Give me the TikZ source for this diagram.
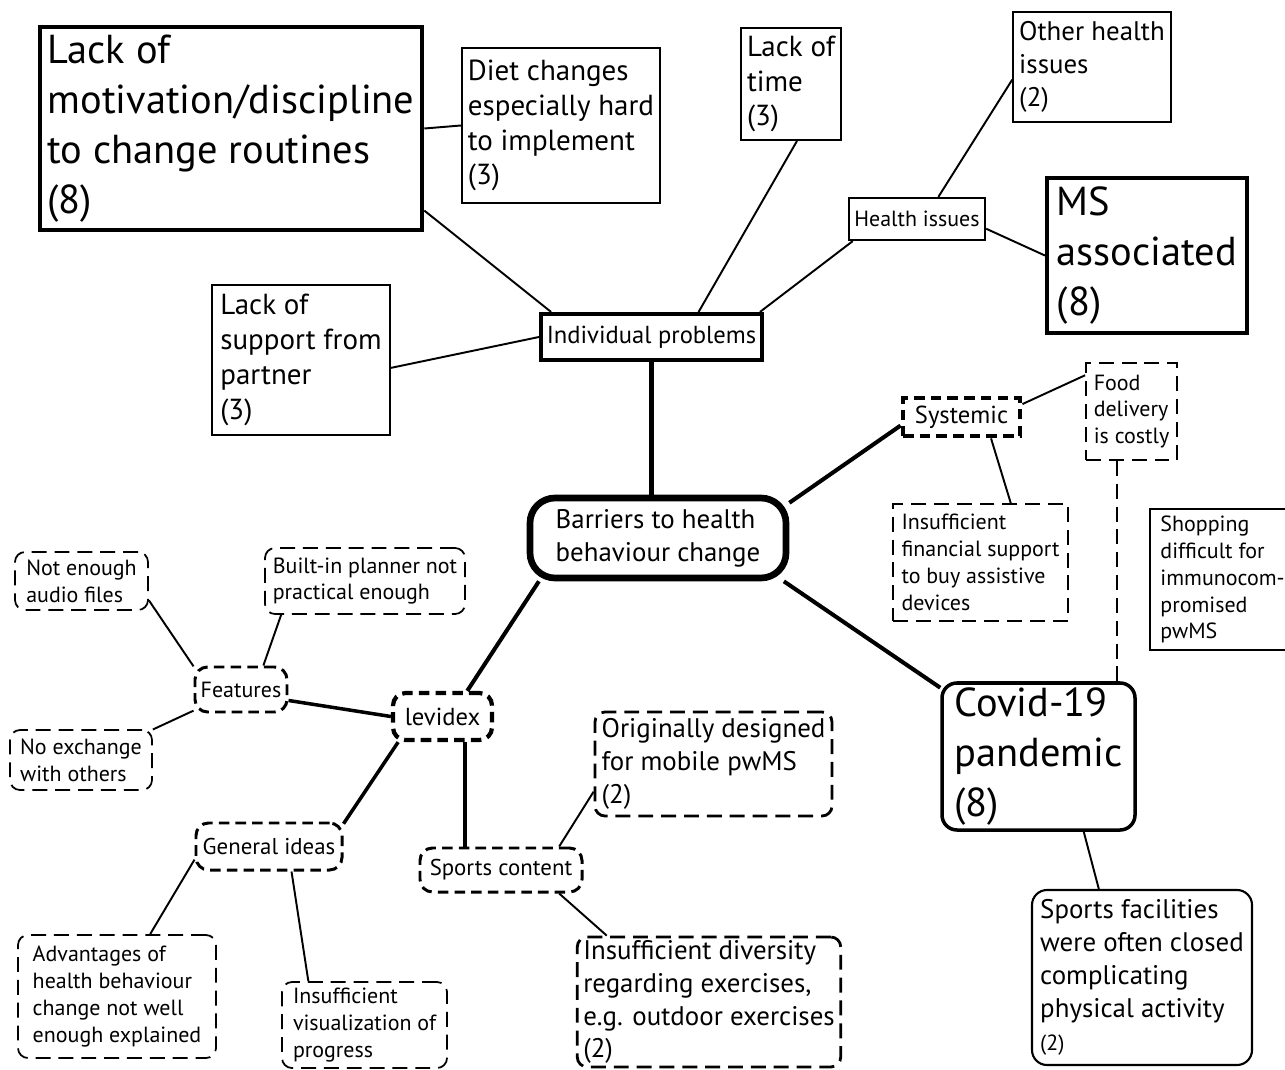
\documentclass[tikz,border=0pt]{standalone}
\usepackage{fontspec}
\setmainfont{PT Sans}
\newcommand{\fbig}{\fontsize{23}{28.35}\selectfont}
\newcommand{\fmid}{\fontsize{16.5}{19.85}\selectfont}
\newcommand{\fnorm}{\fontsize{15.3}{18.7}\selectfont}
\newcommand{\fsml}{\fontsize{12.5}{15.3}\selectfont}
\newcommand{\fhub}{\fontsize{13.5}{16}\selectfont}
\tikzset{
  tbox/.style={draw=black, line width=1.1pt, align=left, inner xsep=1.2mm, inner ysep=0.5mm},
  hbox/.style={draw=black, align=center, inner sep=0.8mm, font=\fhub},
  dbox/.style={tbox, line width=1pt, dash pattern=on 8.5pt off 4.5pt, rounded corners=2mm},
  dhub/.style={hbox, line width=1.7pt, dash pattern=on 6pt off 3.5pt, rounded corners=2.5mm},
  lnk/.style={line width=1.1pt},
  tlnk/.style={line width=2.3pt}
}
\begin{document}
\begin{tikzpicture}[x=0.2mm, y=-0.2mm]
\useasboundingbox (0,0) rectangle (1285,1070);

% individual problems branch
\node[tbox, line width=2.6pt, font=\fbig, minimum width=76.4mm, minimum height=40.6mm] (mot) at (231,128.5) {Lack of\\motivation/discipline\\to change routines\\(8)};
\node[tbox, font=\fmid, minimum width=39.6mm, minimum height=31mm] (diet) at (561,125.5) {Diet changes\\especially hard\\to implement\\(3)};
\node[tbox, font=\fmid, minimum width=19.6mm, minimum height=22.4mm] (time) at (791,84) {Lack of\\time\\(3)};
\node[tbox, font=\fnorm, minimum width=31.2mm, minimum height=22mm] (oth) at (1092,67) {Other health\\issues\\(2)};
\node[hbox, line width=1.3pt, font=\fsml, minimum width=27.2mm, minimum height=8.4mm] (hea) at (917,219) {Health issues};
\node[tbox, line width=2.4pt, font=\fbig, minimum width=40mm, minimum height=31mm] (ms) at (1147,255.5) {MS\\associated\\(8)};
\node[tbox, font=\fmid, minimum width=35.6mm, minimum height=30mm] (sup) at (301,360) {Lack of\\support from\\partner\\(3)};
\node[hbox, line width=2.3pt, font=\fontsize{14}{16}\selectfont, minimum width=44.2mm, minimum height=9.2mm] (ind) at (651.5,337) {Individual problems};

% systemic branch
\node[hbox, line width=2.8pt, dash pattern=on 6pt off 3.5pt, font=\fontsize{14}{16}\selectfont, minimum width=23.4mm, minimum height=7.6mm] (sys) at (961.5,417) {Systemic};
\node[tbox, font=\fsml, line width=1pt, dash pattern=on 8.5pt off 4.5pt, minimum width=18.2mm, minimum height=19.4mm] (food) at (1131.5,411.5) {Food\\delivery\\is costly};
\node[tbox, font=\fsml, line width=1pt, dash pattern=on 8.5pt off 4.5pt, minimum width=35mm, minimum height=23.4mm] (fin) at (980.5,562.5) {Insufficient\\financial support\\to buy assistive\\devices};
\node[tbox, font=\fsml, line width=0.9pt, minimum width=29mm, minimum height=28.2mm] (shop) at (1222.5,579.5) {Shopping\\difficult for\\immunocom-\\promised\\pwMS};

% centre and covid
\node[draw=black, line width=3.8pt, rounded corners=5mm, align=left, font=\fnorm, minimum width=51.2mm, minimum height=16mm] (bar) at (658,538) {Barriers to health\\behaviour change};
\node[tbox, line width=2pt, rounded corners=3mm, font=\fbig, minimum width=38.6mm, minimum height=29.4mm] (cov) at (1038.5,756.5) {Covid-19\\pandemic\\(8)};
\node[tbox, line width=1.2pt, rounded corners=3mm, font=\fnorm, minimum width=44mm, minimum height=35mm] (spf) at (1142,977.5) {Sports facilities\\were often closed\\complicating\\physical activity\\{\fsml(2)}};

% levidex branch
\node[dhub, line width=2.4pt, font=\fontsize{14}{16}\selectfont, minimum width=19.8mm, minimum height=9.4mm] (lev) at (442.5,716.5) {levidex};
\node[dhub, font=\fsml, minimum width=18.4mm, minimum height=9mm] (fea) at (241,689.5) {Features};
\node[dbox, font=\fsml, minimum width=26.6mm, minimum height=11.6mm] (aud) at (81.5,581) {Not enough\\audio files};
\node[dbox, font=\fsml, minimum width=40mm, minimum height=13.2mm] (pla) at (365,581) {Built-in planner not\\practical enough};
\node[dbox, font=\fsml, minimum width=28.4mm, minimum height=12mm] (exc) at (81,760) {No exchange\\with others};
\node[dhub, font=\fontsize{13}{15}\selectfont, minimum width=29.2mm, minimum height=9.4mm] (gen) at (269,846.5) {General ideas};
\node[dbox, font=\fsml, minimum width=39.6mm, minimum height=24.6mm] (adv) at (117,996.5) {Advantages of\\health behaviour\\change not well\\enough explained};
\node[dbox, font=\fsml, minimum width=33mm, minimum height=17.2mm] (vis) at (364.5,1025) {Insufficient\\visualization of\\progress};
\node[dhub, font=\fontsize{13}{15}\selectfont, minimum width=32.4mm, minimum height=8.8mm] (spo) at (501,870) {Sports content};
\node[dbox, line width=1.6pt, font=\fnorm, minimum width=47.4mm, minimum height=20.8mm] (ori) at (713.5,764) {Originally designed\\for mobile pwMS\\(2)};
\node[dbox, line width=1.6pt, font=\fnorm, minimum width=52.4mm, minimum height=26mm] (div) at (709,1002) {Insufficient diversity\\regarding exercises,\\e.g. outdoor exercises\\(2)};

% connectors
\draw[tlnk] (ind.south) -- (ind.south |- bar.north);
\draw[lnk] (ind.166) -- (mot.-23);
\draw[lnk] (mot.east) -- (diet.west);
\draw[lnk] (ind.west) -- (sup.-5);
\draw[lnk] (ind.28) -- (time.-84);
\draw[lnk] (ind.13) -- (hea.199);
\draw[lnk] (hea.46) -- (oth.189);
\draw[lnk] (hea.-8) -- (ms.west);
\draw[tlnk] (bar.15) -- (sys.188);
\draw[lnk] (sys.12) -- (food.142);
\draw[lnk] (sys.-36) -- (fin.63);
\draw[lnk, dash pattern=on 8.5pt off 4.5pt] ([xshift=-2.9mm]food.south) -- ([xshift=-2.9mm]food.south |- cov.north);
\draw[tlnk] (bar.-19) -- (cov.145);
\draw[lnk] (cov.-59) -- (spf.116);
\draw[tlnk] (bar.200) -- (lev.46);
\draw[line width=2pt] (lev.west) -- (fea.-13);
\draw[lnk] (fea.154) -- (aud.-16);
\draw[lnk] (fea.47) -- (pla.202);
\draw[lnk] (fea.204) -- (exc.23);
\draw[line width=2pt] (lev.210) -- (gen.17);
\draw[line width=2pt] (lev.-49) -- (lev.-49 |- spo.north);
\draw[lnk] (gen.190) -- (adv.62);
\draw[lnk] (gen.-48) -- (vis.142);
\draw[lnk] (spo.22) -- (ori.193);
\draw[lnk] (spo.-22) -- (div.147);
\end{tikzpicture}
\end{document}
